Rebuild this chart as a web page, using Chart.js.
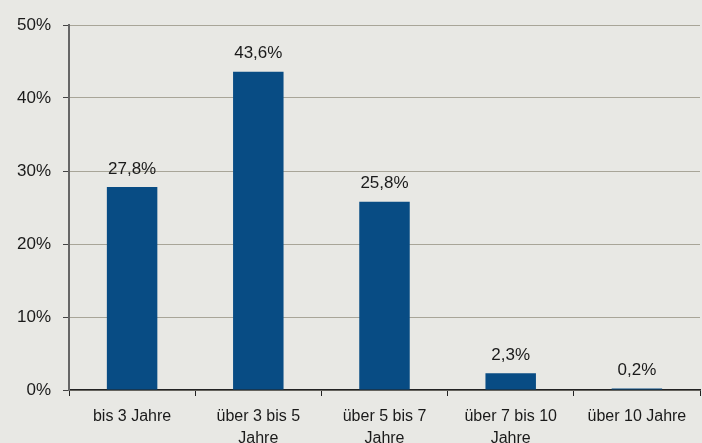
<!DOCTYPE html>
<html>
<head>
<meta charset="utf-8">
<script src="https://cdn.jsdelivr.net/npm/chart.js@4"></script>
<style>
    html, body { margin: 0; padding: 0; background: #e8e8e4; }
    #wrap { width: 702px; height: 443px; }
</style>
</head>
<body>
<div id="wrap"><canvas id="chart" width="702" height="443"></canvas></div>
<script>
const categories = [
    "bis 3 Jahre",
    ["über 3 bis 5", "Jahre"],
    ["über 5 bis 7", "Jahre"],
    ["über 7 bis 10", "Jahre"],
    "über 10 Jahre"
];
const shares = [27.8, 43.6, 25.8, 2.3, 0.2];
const yTicks = [0, 10, 20, 30, 40, 50];

const FONT = "'Liberation Sans', Arial, sans-serif";

// Werte ueber den Balken
const valueLabels = {
    id: "valueLabels",
    afterDatasetsDraw(chart) {
        const ctx = chart.ctx;
        const meta = chart.getDatasetMeta(0);
        ctx.save();
        ctx.font = "17px " + FONT;
        ctx.fillStyle = "#1a1a1a";
        ctx.textAlign = "center";
        ctx.textBaseline = "middle";
        meta.data.forEach((bar, i) => {
            const txt = shares[i].toFixed(1).replace(".", ",") + "%";
            ctx.fillText(txt, bar.x, bar.y - 18);
        });
        ctx.restore();
    }
};

new Chart(document.getElementById("chart").getContext("2d"), {
    type: "bar",
    data: {
        labels: categories,
        datasets: [{
            data: shares,
            backgroundColor: "#084c84",
            categoryPercentage: 1,
            barPercentage: 0.4
        }]
    },
    options: {
        responsive: false,
        animation: false,
        layout: { padding: { top: 25, right: 2, bottom: 0, left: 0 } },
        plugins: {
            legend: { display: false },
            tooltip: { enabled: false }
        },
        scales: {
            x: {
                offset: true,
                grid: {
                    offset: true,
                    drawOnChartArea: false,
                    drawTicks: true,
                    tickLength: 6,
                    color: "#222"
                },
                border: { color: "#222", width: 1.5 },
                ticks: {
                    color: "#1a1a1a",
                    font: { family: FONT, size: 16, lineHeight: 1.375 },
                    maxRotation: 0,
                    autoSkip: false,
                    padding: 10
                },
                afterFit(scale) { scale.height = 53; }
            },
            y: {
                min: 0,
                max: 50,
                afterBuildTicks(scale) {
                    scale.ticks = yTicks.map(v => ({ value: v }));
                },
                grid: {
                    color: "#a8a598",
                    tickLength: 6,
                    tickColor: "#444"
                },
                border: { color: "#666", width: 2 },
                ticks: {
                    color: "#1a1a1a",
                    font: { family: FONT, size: 17 },
                    padding: 12,
                    callback: v => v + "%"
                },
                afterFit(scale) { scale.width = 69; }
            }
        }
    },
    plugins: [valueLabels, {
        id: "bg",
        beforeDraw(chart) {
            const c = chart.ctx;
            c.save();
            c.fillStyle = "#e8e8e4";
            c.fillRect(0, 0, chart.width, chart.height);
            c.restore();
        }
    }]
});
</script>
</body>
</html>
